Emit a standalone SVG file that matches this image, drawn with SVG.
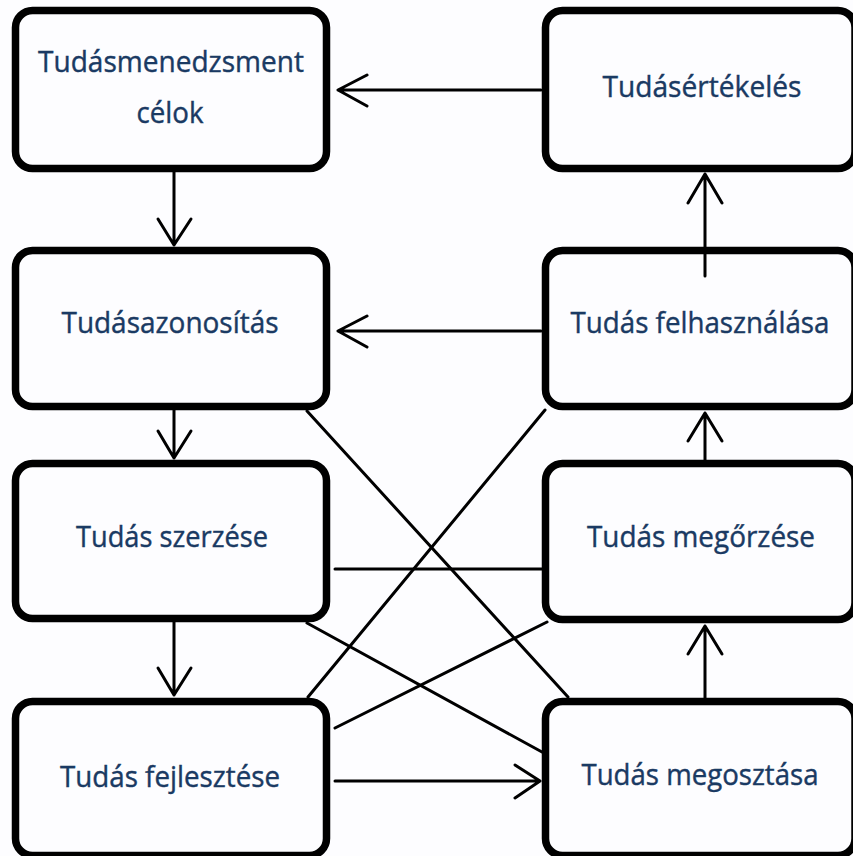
<svg xmlns="http://www.w3.org/2000/svg" width="853" height="856" viewBox="0 0 853 856">
<style>
.box{fill:#fdfdff;stroke:#000;stroke-width:7.5}
.lbl{font-family:"Open Sans","Noto Sans","Liberation Sans",sans-serif;font-size:29px;fill:#1a3a63;stroke:#1a3a63;stroke-width:0.4;text-anchor:middle}
.c{stroke:#000;stroke-width:3;fill:none;stroke-linecap:round;stroke-linejoin:round}
</style>
<rect width="853" height="856" fill="#fdfdff"/>
<g id="n-celok">
<rect class="box" x="15.5" y="10.5" width="311" height="158" rx="17"/>
<text class="lbl" x="171" y="72" textLength="266" lengthAdjust="spacingAndGlyphs">Tudásmenedzsment</text>
<text class="lbl" x="170" y="123" textLength="67" lengthAdjust="spacingAndGlyphs">célok</text>
</g>
<g id="n-azonositas">
<rect class="box" x="15.5" y="250.5" width="311" height="156" rx="17"/>
<text class="lbl" x="170" y="333" textLength="217" lengthAdjust="spacingAndGlyphs">Tudásazonosítás</text>
</g>
<g id="n-szerzes">
<rect class="box" x="15.5" y="463.5" width="311" height="155" rx="17"/>
<text class="lbl" x="172" y="547" textLength="192" lengthAdjust="spacingAndGlyphs">Tudás szerzése</text>
</g>
<g id="n-fejlesztes">
<rect class="box" x="15.5" y="701.5" width="311" height="154" rx="17"/>
<text class="lbl" x="170" y="787" textLength="220" lengthAdjust="spacingAndGlyphs">Tudás fejlesztése</text>
</g>
<g id="n-ertekeles">
<rect class="box" x="545.5" y="10.5" width="309.5" height="158" rx="17"/>
<text class="lbl" x="702" y="97" textLength="199" lengthAdjust="spacingAndGlyphs">Tudásértékelés</text>
</g>
<g id="n-felhasznalas">
<rect class="box" x="545.5" y="250.5" width="309.5" height="156" rx="17"/>
<text class="lbl" x="700" y="333" textLength="259" lengthAdjust="spacingAndGlyphs">Tudás felhasználása</text>
</g>
<g id="n-megorzes">
<rect class="box" x="545.5" y="463.5" width="309.5" height="156" rx="17"/>
<text class="lbl" x="701" y="547" textLength="228" lengthAdjust="spacingAndGlyphs">Tudás megőrzése</text>
</g>
<g id="n-megosztas">
<rect class="box" x="545.5" y="701.5" width="309.5" height="154" rx="17"/>
<text class="lbl" x="700" y="785" textLength="237" lengthAdjust="spacingAndGlyphs">Tudás megosztása</text>
</g>
<g id="connectors">
<path class="c" d="M541 90H338M367 75L338 90L367 106"/>
<path class="c" d="M541 331H338M367 316L338 331L367 347"/>
<path class="c" d="M174 172V245M158 219L174 245L191 219"/>
<path class="c" d="M174 410V458M158 431L174 458L191 431"/>
<path class="c" d="M174 622V695M158 668L174 695L191 668"/>
<path class="c" d="M705 276V174M688 203L705 174L722 203"/>
<path class="c" d="M705 460V413M688 441L705 413L722 441"/>
<path class="c" d="M705 698V626M688 654L705 626L722 654"/>
<path class="c" d="M335 781H540M515 765L540 781L515 798"/>
<path class="c" d="M307 411L568 697"/>
<path class="c" d="M545 410L308 697"/>
<path class="c" d="M335 569H542"/>
<path class="c" d="M307 623L542 752"/>
<path class="c" d="M335 728L547 622"/>
</g>
</svg>
